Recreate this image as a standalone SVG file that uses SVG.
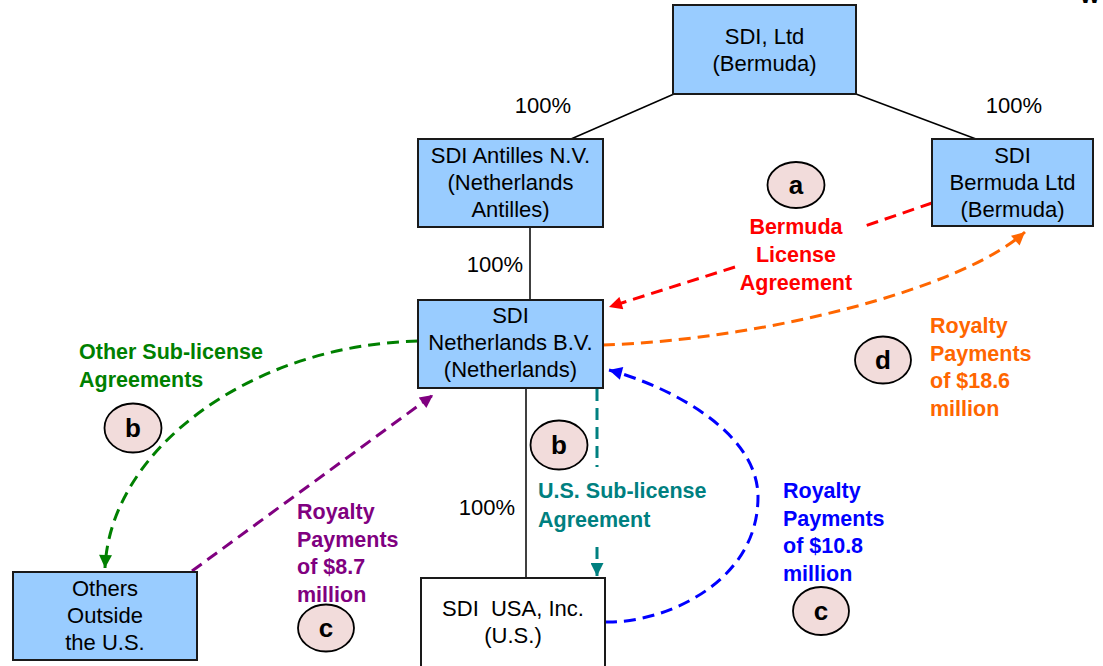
<svg xmlns="http://www.w3.org/2000/svg" width="1103" height="666" viewBox="0 0 1103 666">
<style>
.box{fill:#99ccff;stroke:#1a1a1a;stroke-width:2}
.wbox{fill:#ffffff;stroke:#1a1a1a;stroke-width:2}
.t{font-family:"Liberation Sans",Arial,sans-serif;font-size:22px;fill:#000;text-anchor:middle}
.p{font-family:"Liberation Sans",Arial,sans-serif;font-size:22px;fill:#000}
.b{font-family:"Liberation Sans",Arial,sans-serif;font-size:21.5px;font-weight:bold}
.own{stroke:#000;stroke-width:1.5;fill:none}
.d{fill:none;stroke-width:3;stroke-dasharray:12 7}
.circ{fill:#f2dcdb;stroke:#000;stroke-width:1.8}
.ct{font-family:"Liberation Sans",Arial,sans-serif;font-size:26px;font-weight:bold;text-anchor:middle;fill:#000}
</style>
<defs>
<marker id="mRed" viewBox="0 0 10 10" refX="10" refY="5" markerUnits="userSpaceOnUse" markerWidth="15" markerHeight="13" orient="auto"><path d="M0,0 L10,5 L0,10 z" fill="#ff0000"/></marker>
<marker id="mOrange" viewBox="0 0 10 10" refX="10" refY="5" markerUnits="userSpaceOnUse" markerWidth="15" markerHeight="13" orient="auto"><path d="M0,0 L10,5 L0,10 z" fill="#ff6600"/></marker>
<marker id="mGreen" viewBox="0 0 10 10" refX="10" refY="5" markerUnits="userSpaceOnUse" markerWidth="15" markerHeight="13" orient="auto"><path d="M0,0 L10,5 L0,10 z" fill="#008000"/></marker>
<marker id="mPurple" viewBox="0 0 10 10" refX="10" refY="5" markerUnits="userSpaceOnUse" markerWidth="15" markerHeight="13" orient="auto"><path d="M0,0 L10,5 L0,10 z" fill="#800080"/></marker>
<marker id="mTeal" viewBox="0 0 10 10" refX="10" refY="5" markerUnits="userSpaceOnUse" markerWidth="15" markerHeight="13" orient="auto"><path d="M0,0 L10,5 L0,10 z" fill="#008080"/></marker>
<marker id="mBlue" viewBox="0 0 10 10" refX="10" refY="5" markerUnits="userSpaceOnUse" markerWidth="15" markerHeight="13" orient="auto"><path d="M0,0 L10,5 L0,10 z" fill="#0000ff"/></marker>
</defs>
<rect width="1103" height="666" fill="#ffffff"/>
<text x="1090" y="3" class="b" text-anchor="middle" fill="#000">W</text>

<g id="connectors">
<path class="own" d="M674,94 L571,139"/>
<path class="own" d="M856,94 L976,139"/>
<path class="own" d="M530,227 L530,299"/>
<path class="own" d="M526,388 L526,578"/>
<path class="d" stroke="#ff0000" d="M932,203 L862,227 M735,267 L609,307" marker-end="url(#mRed)"/>
<path class="d" stroke="#ff6600" d="M603,345 C760,340 960,290 1025,232" marker-end="url(#mOrange)"/>
<path class="d" stroke="#008000" d="M418,341 C250,345 110,450 105,568" marker-end="url(#mGreen)"/>
<path class="d" stroke="#800080" d="M192,571 L433,395" marker-end="url(#mPurple)"/>
<path class="d" stroke="#008080" d="M597,389 L597,467 M597,547 L597,576" marker-end="url(#mTeal)"/>
<path class="d" stroke="#0000ff" d="M605,622 C660,624 758,585 758,497 C758,430 665,385 609,370" marker-end="url(#mBlue)"/>
</g>

<g id="node-sdi-ltd">
<rect class="box" x="673" y="5" width="183" height="89"/>
<text class="t" x="764.5" y="44">SDI, Ltd</text>
<text class="t" x="764.5" y="71">(Bermuda)</text>
</g>
<g id="node-antilles">
<rect class="box" x="418" y="139" width="185" height="88"/>
<text class="t" x="510.5" y="163">SDI Antilles N.V.</text>
<text class="t" x="510.5" y="190">(Netherlands</text>
<text class="t" x="510.5" y="217">Antilles)</text>
</g>
<g id="node-bermuda-ltd">
<rect class="box" x="932" y="139" width="161" height="87"/>
<text class="t" x="1012.5" y="163">SDI</text>
<text class="t" x="1012.5" y="190">Bermuda Ltd</text>
<text class="t" x="1012.5" y="217">(Bermuda)</text>
</g>
<g id="node-netherlands">
<rect class="box" x="418" y="300" width="185" height="88"/>
<text class="t" x="510.5" y="323">SDI</text>
<text class="t" x="510.5" y="350">Netherlands B.V.</text>
<text class="t" x="510.5" y="377">(Netherlands)</text>
</g>
<g id="node-others">
<rect class="box" x="13" y="572" width="184" height="88"/>
<text class="t" x="105" y="596">Others</text>
<text class="t" x="105" y="623">Outside</text>
<text class="t" x="105" y="650">the U.S.</text>
</g>
<g id="node-usa">
<rect class="wbox" x="421" y="578" width="184" height="92"/>
<text class="t" x="513" y="616" xml:space="preserve">SDI  USA, Inc.</text>
<text class="t" x="513" y="643">(U.S.)</text>
</g>

<g id="ownership-labels">
<text class="p" x="571" y="113" text-anchor="end">100%</text>
<text class="p" x="1042" y="113" text-anchor="end">100%</text>
<text class="p" x="523" y="272" text-anchor="end">100%</text>
<text class="p" x="515" y="515" text-anchor="end">100%</text>
</g>

<g id="label-a">
<text class="b" fill="#ff0000" text-anchor="middle" x="796" y="234">Bermuda</text>
<text class="b" fill="#ff0000" text-anchor="middle" x="796" y="262">License</text>
<text class="b" fill="#ff0000" text-anchor="middle" x="796" y="290">Agreement</text>
</g>
<g id="label-d">
<text class="b" fill="#ff6600" x="930" y="333">Royalty</text>
<text class="b" fill="#ff6600" x="930" y="361">Payments</text>
<text class="b" fill="#ff6600" x="930" y="388">of $18.6</text>
<text class="b" fill="#ff6600" x="930" y="416">million</text>
</g>
<g id="label-b-other">
<text class="b" fill="#008000" x="79" y="359">Other Sub-license</text>
<text class="b" fill="#008000" x="79" y="387">Agreements</text>
</g>
<g id="label-c-other">
<text class="b" fill="#800080" x="297" y="519">Royalty</text>
<text class="b" fill="#800080" x="297" y="547">Payments</text>
<text class="b" fill="#800080" x="297" y="574">of $8.7</text>
<text class="b" fill="#800080" x="297" y="602">million</text>
</g>
<g id="label-b-us">
<text class="b" fill="#008080" x="538" y="498">U.S. Sub-license</text>
<text class="b" fill="#008080" x="538" y="527">Agreement</text>
</g>
<g id="label-c-us">
<text class="b" fill="#0000ff" x="783" y="498">Royalty</text>
<text class="b" fill="#0000ff" x="783" y="526">Payments</text>
<text class="b" fill="#0000ff" x="783" y="553">of $10.8</text>
<text class="b" fill="#0000ff" x="783" y="581">million</text>
</g>

<g id="circle-a"><ellipse class="circ" cx="796" cy="185" rx="28.5" ry="23"/><text class="ct" x="796" y="194">a</text></g>
<g id="circle-b-left"><ellipse class="circ" cx="133" cy="428" rx="28.5" ry="24.5"/><text class="ct" x="133" y="437">b</text></g>
<g id="circle-b-mid"><ellipse class="circ" cx="559" cy="445" rx="28.5" ry="24.5"/><text class="ct" x="559" y="454">b</text></g>
<g id="circle-c-left"><ellipse class="circ" cx="326" cy="628" rx="28" ry="23.5"/><text class="ct" x="326" y="637">c</text></g>
<g id="circle-c-right"><ellipse class="circ" cx="821" cy="611" rx="28" ry="24"/><text class="ct" x="821" y="620">c</text></g>
<g id="circle-d"><ellipse class="circ" cx="883" cy="360" rx="28" ry="23.5"/><text class="ct" x="883" y="369">d</text></g>
</svg>
